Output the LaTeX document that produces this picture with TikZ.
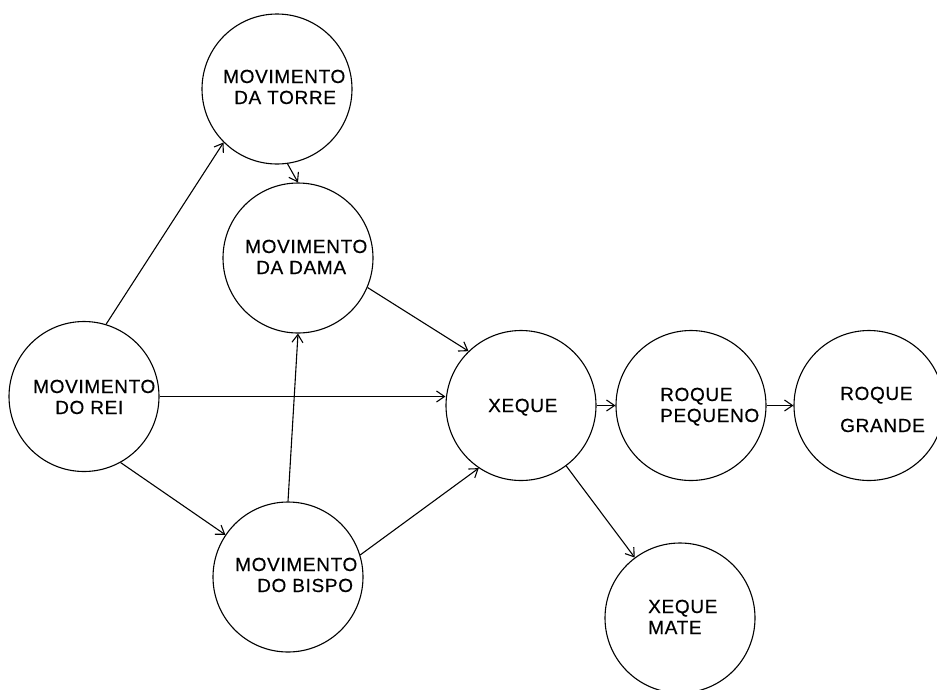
\documentclass[tikz,border=0pt]{standalone}
\usepackage{fontspec}
\setmainfont{Liberation Sans}
\usetikzlibrary{arrows.meta}
\begin{document}
\begin{tikzpicture}[x=1pt,y=-1pt,
  state/.style={draw, circle, line width=1.1pt, minimum size=150pt, inner sep=0pt},
  txt/.style={anchor=base west, inner sep=0pt,
    font=\fontsize{19}{21}\selectfont\addfontfeature{LetterSpace=3.5,FakeBold=0.4}},
  link/.style={line width=1.1pt, -{Straight Barb[length=8pt,width=11pt,line width=1.1pt]}}]
\useasboundingbox[fill=white] (0,0) rectangle (937,689);

% states
\node[state] (torre)   at (277,89)  {};
\node[state] (dama)    at (298,258) {};
\node[state] (rei)     at (84,396.5)  {};
\node[state] (xeque)   at (521,405.5) {};
\node[state] (pequeno) at (691,405.5) {};
\node[state] (grande)  at (869,405.5) {};
\node[state] (bispo)   at (288,577) {};
\node[state] (mate)    at (680,618) {};

% labels (first-line baseline at the anchor)
\node[txt] (ttorre) at (223,83)
  {\begin{tabular}[t]{@{}l@{}}MOVIMENTO\\\hspace{11pt}DA TORRE\end{tabular}};
\node[txt] (tdama) at (245,253)
  {\begin{tabular}[t]{@{}l@{}}MOVIMENTO\\\hspace{11pt}DA DAMA\end{tabular}};
\node[txt] (trei) at (33,393)
  {\begin{tabular}[t]{@{}l@{}}MOVIMENTO\\\hspace{22pt}DO REI\end{tabular}};
\node[txt] (txeque) at (488,412) {XEQUE};
\node[txt] (tpequeno) at (660,401)
  {\begin{tabular}[t]{@{}l@{}}ROQUE\\PEQUENO\end{tabular}};
\node[txt] (tgrande) at (840,400)
  {\begin{tabular}[t]{@{}l@{}}ROQUE\\[11pt]GRANDE\end{tabular}};
\node[txt] (tbispo) at (235,571)
  {\begin{tabular}[t]{@{}l@{}}MOVIMENTO\\\hspace{22pt}DO BISPO\end{tabular}};
\node[txt] (tmate) at (648,613)
  {\begin{tabular}[t]{@{}l@{}}XEQUE\\MATE\end{tabular}};

% transitions
\draw[link] (rei.73) -- (torre.225);
\draw[link] (torre.-82) -- (dama.north);
\draw[link] (rei.east) -- (rei.east -| xeque.west);
\draw[link] (rei.-61) -- (bispo.146);
\draw[link] (dama.-23) -- (xeque.134);
\draw[link] (bispo.north) -- (dama.south);
\draw[link] (bispo.17) -- (xeque.236);
\draw[link] (xeque.east) -- (pequeno.west);
\draw[link] (pequeno.east) -- (grande.west);
\draw[link] (xeque) -- (mate);
\end{tikzpicture}
\end{document}
